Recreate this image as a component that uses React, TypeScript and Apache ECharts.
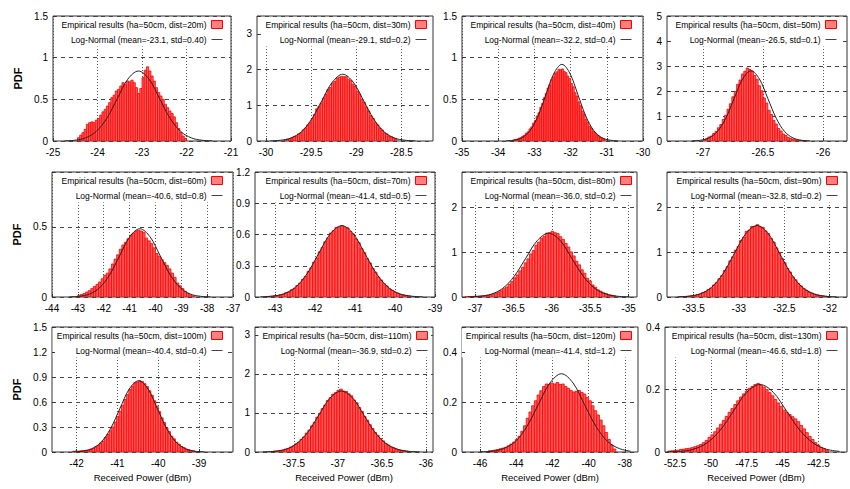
import React, { useEffect, useRef } from "react";
import * as echarts from "echarts";

// ---------------- data ----------------
const DISTANCES = ["20m", "30m", "40m", "50m", "60m", "70m", "80m", "90m", "100m", "110m", "120m", "130m"];
const FIT_LABELS = [
  "mean=-23.1, std=0.40", "mean=-29.1, std=0.2", "mean=-32.2, std=0.4", "mean=-26.5, std=0.1",
  "mean=-40.6, std=0.8", "mean=-41.4, std=0.5", "mean=-36.0, std=0.2", "mean=-32.8, std=0.2",
  "mean=-40.4, std=0.4", "mean=-36.9, std=0.2", "mean=-41.4, std=1.2", "mean=-46.6, std=1.8",
];

const X_MIN = [-25, -30.1, -35, -27.3, -44, -43.5, -37.17, -33.79, -42.6, -37.94, -47, -53.2];
const X_MAX = [-21, -28.15, -30, -25.8, -37, -39, -34.89, -31.81, -38.17, -35.92, -37.27, -40.5];
const Y_MAX = [1.5, 3.5, 1.5, 5, 0.89, 1.2, 2.8, 2.8, 1.5, 3.2, 0.5, 0.4];
const Y_STEP = [0.5, 1, 0.5, 1, 0.5, 0.3, 1, 1, 0.3, 1, 0.2, 0.2];

const X_TICKS = [
  [-25, -24, -23, -22, -21],
  [-30, -29.5, -29, -28.5],
  [-35, -34, -33, -32, -31, -30],
  [-27, -26.5, -26],
  [-44, -43, -42, -41, -40, -39, -38, -37],
  [-43, -42, -41, -40, -39],
  [-37, -36.5, -36, -35.5, -35],
  [-33.5, -33, -32.5, -32],
  [-42, -41, -40, -39],
  [-37.5, -37, -36.5, -36],
  [-46, -44, -42, -40, -38],
  [-52.5, -50, -47.5, -45, -42.5],
];
const Y_TICKS = [
  [0, 0.5, 1, 1.5],
  [0, 1, 2, 3],
  [0, 0.5, 1, 1.5],
  [0, 1, 2, 3, 4, 5],
  [0, 0.5],
  [0, 0.3, 0.6, 0.9, 1.2],
  [0, 1, 2],
  [0, 1, 2],
  [0, 0.3, 0.6, 0.9, 1.2, 1.5],
  [0, 1, 2, 3],
  [0, 0.2, 0.4],
  [0, 0.2, 0.4],
];

// histogram bins: first bin edge and bin width (dBm)
const HIST_START = [-24.45, -29.8, -33.6, -27.0, -43.0, -43.25, -37.13, -33.65, -42.1, -37.76, -45.55, -53.0];
const HIST_WIDTH = [0.05, 0.025, 0.05, 0.02, 0.1, 0.07, 0.035, 0.03, 0.06, 0.03, 0.15, 0.2];

const HIST_1 = [0.04, 0.07, 0.1, 0.14, 0.2, 0.22, 0.23, 0.22, 0.25, 0.27, 0.31, 0.35, 0.38, 0.42, 0.46, 0.52, 0.55, 0.6, 0.62, 0.66,
  0.7, 0.68, 0.72, 0.71, 0.73, 0.7, 0.64, 0.57, 0.63, 0.76, 0.85, 0.89, 0.84, 0.78, 0.72, 0.64, 0.58, 0.54, 0.5, 0.44,
  0.4, 0.36, 0.33, 0.29, 0.22, 0.15, 0.1, 0.06, 0.03];
const HIST_2 = [0.03, 0.05, 0.06, 0.09, 0.13, 0.14, 0.2, 0.23, 0.31, 0.36, 0.45, 0.52, 0.63, 0.74, 0.9, 0.97, 1.06, 1.2, 1.3, 1.44,
  1.5, 1.62, 1.67, 1.76, 1.79, 1.81, 1.8, 1.8, 1.73, 1.7, 1.59, 1.53, 1.4, 1.31, 1.17, 1.08, 0.94, 0.84, 0.71, 0.63,
  0.51, 0.45, 0.36, 0.31, 0.23, 0.2, 0.14, 0.12, 0.08, 0.06];
const HIST_3 = [0.012, 0.02, 0.022, 0.034, 0.04, 0.057, 0.069, 0.094, 0.11, 0.145, 0.17, 0.215, 0.245, 0.3, 0.34, 0.405, 0.45, 0.52, 0.57, 0.635,
  0.675, 0.735, 0.77, 0.815, 0.83, 0.86, 0.855, 0.865, 0.835, 0.82, 0.78, 0.75, 0.69, 0.65, 0.58, 0.54, 0.47, 0.425, 0.36, 0.32,
  0.26, 0.225, 0.178, 0.155, 0.118, 0.1, 0.075, 0.061, 0.044, 0.036, 0.025];
const HIST_4 = [0.05, 0.09, 0.16, 0.2, 0.3, 0.38, 0.53, 0.66, 0.86, 1.03, 1.27, 1.49, 1.77, 1.98, 2.27, 2.44, 2.68, 2.79, 2.92, 2.86,
  2.8, 2.62, 2.47, 2.21, 2.01, 1.72, 1.52, 1.23, 1.06, 0.82, 0.68, 0.5, 0.4, 0.28, 0.22, 0.14, 0.11, 0.07, 0.05, 0.03,
  0.02, 0.015, 0.01];
const HIST_5 = [0.012, 0.018, 0.025, 0.035, 0.045, 0.06, 0.075, 0.09, 0.107, 0.13, 0.155, 0.17, 0.2, 0.235, 0.27, 0.3, 0.34, 0.37, 0.39, 0.415,
  0.44, 0.455, 0.47, 0.475, 0.47, 0.46, 0.42, 0.4, 0.38, 0.35, 0.31, 0.29, 0.265, 0.245, 0.225, 0.2, 0.17, 0.14, 0.1, 0.08,
  0.06, 0.04, 0.025, 0.015, 0.008];
const HIST_6 = [0.004, 0.006, 0.008, 0.012, 0.014, 0.022, 0.027, 0.04, 0.048, 0.069, 0.083, 0.11, 0.132, 0.17, 0.198, 0.245, 0.28, 0.335, 0.375, 0.434,
  0.474, 0.53, 0.566, 0.614, 0.636, 0.668, 0.672, 0.685, 0.67, 0.664, 0.63, 0.605, 0.556, 0.522, 0.466, 0.425, 0.368, 0.327, 0.274, 0.238,
  0.192, 0.163, 0.127, 0.106, 0.078, 0.064, 0.045, 0.036, 0.025, 0.02, 0.013, 0.01];
const HIST_7 = [0.008, 0.01, 0.012, 0.015, 0.018, 0.022, 0.026, 0.032, 0.04, 0.05, 0.064, 0.085, 0.11, 0.14, 0.185, 0.225, 0.285, 0.345, 0.43, 0.495,
  0.585, 0.665, 0.765, 0.855, 0.965, 1.04, 1.16, 1.23, 1.32, 1.36, 1.43, 1.44, 1.47, 1.44, 1.42, 1.35, 1.29, 1.2, 1.12, 1.01,
  0.92, 0.8, 0.72, 0.61, 0.53, 0.42, 0.36, 0.27, 0.22, 0.16, 0.13, 0.095, 0.078, 0.052, 0.042, 0.028];
const HIST_8 = [0.007, 0.008, 0.014, 0.018, 0.029, 0.036, 0.055, 0.068, 0.098, 0.12, 0.168, 0.2, 0.27, 0.32, 0.41, 0.48, 0.595, 0.68, 0.81, 0.9,
  1.05, 1.13, 1.27, 1.34, 1.47, 1.5, 1.58, 1.58, 1.62, 1.57, 1.56, 1.48, 1.42, 1.31, 1.23, 1.1, 1.0, 0.86, 0.77, 0.64,
  0.56, 0.45, 0.385, 0.3, 0.248, 0.188, 0.152, 0.11, 0.088, 0.062, 0.048, 0.032, 0.025, 0.015, 0.011];
const HIST_9 = [0.008, 0.012, 0.011, 0.015, 0.017, 0.021, 0.024, 0.034, 0.043, 0.062, 0.078, 0.108, 0.13, 0.175, 0.21, 0.255, 0.3, 0.36, 0.425, 0.49,
  0.56, 0.63, 0.69, 0.75, 0.79, 0.83, 0.84, 0.855, 0.845, 0.82, 0.785, 0.735, 0.68, 0.615, 0.55, 0.485, 0.41, 0.355, 0.29, 0.245,
  0.19, 0.158, 0.118, 0.094, 0.067, 0.052, 0.036, 0.028, 0.018, 0.013];
const HIST_10 = [0.012, 0.022, 0.026, 0.04, 0.05, 0.074, 0.092, 0.127, 0.155, 0.21, 0.25, 0.325, 0.385, 0.485, 0.56, 0.67, 0.76, 0.89, 0.99, 1.11,
  1.2, 1.32, 1.39, 1.48, 1.52, 1.58, 1.61, 1.56, 1.55, 1.49, 1.44, 1.33, 1.26, 1.14, 1.04, 0.91, 0.815, 0.7, 0.605, 0.5,
  0.425, 0.342, 0.285, 0.218, 0.178, 0.13, 0.107, 0.076, 0.06, 0.041, 0.033, 0.021];
const HIST_11 = [0.005, 0.006, 0.008, 0.01, 0.013, 0.016, 0.019, 0.025, 0.032, 0.04, 0.05, 0.063, 0.083, 0.105, 0.135, 0.16, 0.185, 0.205, 0.228, 0.245,
  0.262, 0.272, 0.27, 0.276, 0.272, 0.278, 0.27, 0.272, 0.262, 0.255, 0.246, 0.24, 0.243, 0.246, 0.238, 0.232, 0.218, 0.205, 0.185, 0.165,
  0.148, 0.128, 0.105, 0.078, 0.05, 0.028, 0.012];
const HIST_12 = [0.003, 0.004, 0.005, 0.006, 0.008, 0.009, 0.011, 0.012, 0.014, 0.017, 0.02, 0.024, 0.03, 0.037, 0.047, 0.055, 0.065, 0.077, 0.089, 0.101,
  0.114, 0.127, 0.139, 0.152, 0.164, 0.176, 0.186, 0.195, 0.204, 0.21, 0.216, 0.219, 0.213, 0.208, 0.2, 0.19, 0.18, 0.168, 0.157, 0.146,
  0.134, 0.127, 0.12, 0.113, 0.106, 0.097, 0.085, 0.074, 0.062, 0.05, 0.04, 0.03, 0.022, 0.015, 0.01, 0.006];

// fitted log-normal curves
const CURVE_X_1 = [-24.74, -24.51, -24.27, -24.03, -23.79, -23.555, -23.32, -23.08, -22.84, -22.605, -22.37, -22.13, -21.89, -21.655, -21.42];
const CURVE_Y_1 = [0.002, 0.009, 0.037, 0.114, 0.273, 0.509, 0.741, 0.84, 0.741, 0.509, 0.273, 0.114, 0.037, 0.009, 0.002];
const CURVE_X_2 = [-29.955, -29.84, -29.725, -29.61, -29.495, -29.38, -29.265, -29.15, -29.035, -28.92, -28.805, -28.69, -28.575, -28.46, -28.345];
const CURVE_Y_2 = [0.004, 0.021, 0.082, 0.253, 0.607, 1.134, 1.65, 1.87, 1.65, 1.134, 0.607, 0.253, 0.082, 0.021, 0.004];
const CURVE_X_3 = [-33.78, -33.56, -33.34, -33.12, -32.9, -32.68, -32.46, -32.24, -32.02, -31.8, -31.58, -31.36, -31.14, -30.92, -30.7];
const CURVE_Y_3 = [0.002, 0.01, 0.04, 0.124, 0.299, 0.558, 0.812, 0.92, 0.812, 0.558, 0.299, 0.124, 0.04, 0.01, 0.002];
const CURVE_X_4 = [-27.09, -27.02, -26.95, -26.88, -26.81, -26.74, -26.67, -26.6, -26.53, -26.46, -26.39, -26.32, -26.25, -26.18, -26.11];
const CURVE_Y_4 = [0.006, 0.031, 0.123, 0.38, 0.912, 1.704, 2.48, 2.81, 2.48, 1.704, 0.912, 0.38, 0.123, 0.031, 0.006];
const CURVE_X_5 = [-43.33, -42.94, -42.55, -42.16, -41.77, -41.38, -40.99, -40.6, -40.21, -39.82, -39.43, -39.04, -38.65, -38.26, -37.87];
const CURVE_Y_5 = [0.001, 0.005, 0.021, 0.066, 0.158, 0.295, 0.429, 0.486, 0.429, 0.295, 0.158, 0.066, 0.021, 0.005, 0.001];
const CURVE_X_6 = [-43.36, -43.07, -42.78, -42.49, -42.2, -41.91, -41.62, -41.33, -41.04, -40.75, -40.46, -40.17, -39.88, -39.59, -39.3];
const CURVE_Y_6 = [0.0015, 0.008, 0.03, 0.093, 0.222, 0.415, 0.605, 0.685, 0.605, 0.415, 0.222, 0.093, 0.03, 0.008, 0.0015];
const CURVE_X_7 = [-37.09, -36.94, -36.79, -36.64, -36.49, -36.34, -36.19, -36.04, -35.89, -35.74, -35.59, -35.44, -35.29, -35.14, -34.99];
const CURVE_Y_7 = [0.003, 0.016, 0.063, 0.193, 0.464, 0.867, 1.262, 1.43, 1.262, 0.867, 0.464, 0.193, 0.063, 0.016, 0.003];
const CURVE_X_8 = [-33.675, -33.55, -33.425, -33.3, -33.175, -33.05, -32.925, -32.8, -32.675, -32.55, -32.425, -32.3, -32.175, -32.05, -31.925];
const CURVE_Y_8 = [0.004, 0.018, 0.07, 0.216, 0.52, 0.97, 1.412, 1.6, 1.412, 0.97, 0.52, 0.216, 0.07, 0.018, 0.004];
const CURVE_X_9 = [-42.09, -41.86, -41.63, -41.4, -41.17, -40.94, -40.71, -40.48, -40.25, -40.02, -39.79, -39.56, -39.33, -39.1, -38.87];
const CURVE_Y_9 = [0.002, 0.009, 0.038, 0.116, 0.278, 0.519, 0.755, 0.855, 0.755, 0.519, 0.278, 0.116, 0.038, 0.009, 0.002];
const CURVE_X_10 = [-37.85, -37.725, -37.59, -37.47, -37.34, -37.215, -37.09, -36.96, -36.83, -36.705, -36.58, -36.45, -36.32, -36.195, -36.07];
const CURVE_Y_10 = [0.003, 0.017, 0.068, 0.211, 0.507, 0.946, 1.377, 1.56, 1.377, 0.946, 0.507, 0.211, 0.068, 0.017, 0.003];
const CURVE_X_11 = [-45.96, -45.33, -44.69, -44.05, -43.41, -42.78, -42.14, -41.5, -40.86, -40.23, -39.59, -38.95, -38.31, -37.68];
const CURVE_Y_11 = [0.001, 0.003, 0.014, 0.042, 0.102, 0.19, 0.276, 0.313, 0.276, 0.19, 0.102, 0.042, 0.014, 0.003];
const CURVE_X_12 = [-53.04, -52.12, -51.195, -50.27, -49.345, -48.42, -47.495, -46.57, -45.645, -44.72, -43.795, -42.87, -41.945, -41.02];
const CURVE_Y_12 = [0.0005, 0.002, 0.009, 0.029, 0.07, 0.131, 0.191, 0.216, 0.191, 0.131, 0.07, 0.029, 0.009, 0.002];

const HISTS = [HIST_1, HIST_2, HIST_3, HIST_4, HIST_5, HIST_6, HIST_7, HIST_8, HIST_9, HIST_10, HIST_11, HIST_12];
const CURVES_X = [CURVE_X_1, CURVE_X_2, CURVE_X_3, CURVE_X_4, CURVE_X_5, CURVE_X_6, CURVE_X_7, CURVE_X_8, CURVE_X_9, CURVE_X_10, CURVE_X_11, CURVE_X_12];
const CURVES_Y = [CURVE_Y_1, CURVE_Y_2, CURVE_Y_3, CURVE_Y_4, CURVE_Y_5, CURVE_Y_6, CURVE_Y_7, CURVE_Y_8, CURVE_Y_9, CURVE_Y_10, CURVE_Y_11, CURVE_Y_12];

// ---------------- layout ----------------
const GRID_LEFT = [53, 257, 462, 667, 52, 255, 462, 667, 52, 255, 462, 665];
const GRID_RIGHT = [231, 433, 643, 847, 233, 435, 637, 847, 233, 433, 638, 847];
const GRID_TOP = [16, 16, 16, 16, 172, 172, 172, 172, 327, 327, 327, 327];
const GRID_H = 125;
const KEY_RIGHT = [223, 427, 632, 837, 223, 427, 632, 838, 223, 428, 632, 838];
const W = 850;
const H = 489;
const FONT = "'Liberation Sans', Arial, Helvetica, sans-serif";

function fmt(v: number) {
  return String(parseFloat(v.toFixed(3)));
}

function buildOption() {
  const grid: any[] = [];
  const xAxis: any[] = [];
  const yAxis: any[] = [];
  const series: any[] = [];
  const legend: any[] = [];

  for (let i = 0; i < 12; i++) {
    const empName = "Empirical results (ha=50cm, dist=" + DISTANCES[i] + ")";
    const fitName = "Log-Normal (" + FIT_LABELS[i] + ")";
    const yTicks = Y_TICKS[i];
    grid.push({
      left: GRID_LEFT[i],
      top: GRID_TOP[i],
      width: GRID_RIGHT[i] - GRID_LEFT[i],
      height: GRID_H,
      show: true,
      borderColor: "#333",
      borderWidth: 1,
      backgroundColor: "rgba(0,0,0,0)",
    });
    xAxis.push({
      type: "value",
      gridIndex: i,
      min: X_MIN[i],
      max: X_MAX[i],
      axisLine: { show: false },
      axisTick: { show: true, inside: true, length: 3, customValues: X_TICKS[i], lineStyle: { color: "#333" } },
      axisLabel: {
        customValues: X_TICKS[i], showMinLabel: true, showMaxLabel: true, hideOverlap: false,
        margin: 6, color: "#000", fontSize: 10, fontFamily: FONT,
      },
      splitLine: { show: true, lineStyle: { color: "#555", type: [1, 2], width: 1 } },
      name: i >= 8 ? "Received Power (dBm)" : "",
      nameLocation: "middle",
      nameGap: 20,
      nameTextStyle: { color: "#000", fontSize: 9.5, fontFamily: FONT },
    });
    yAxis.push({
      type: "value",
      gridIndex: i,
      min: 0,
      max: Y_MAX[i],
      interval: Y_STEP[i],
      z: 5,
      axisLine: { show: false },
      axisTick: { show: true, inside: true, length: 3, lineStyle: { color: "#333" } },
      axisLabel: {
        showMinLabel: true, showMaxLabel: true, hideOverlap: false,
        margin: 5, color: "#000", fontSize: 10, fontFamily: FONT,
        formatter: (v: number) => {
          const hit = yTicks.some((t) => Math.abs(t - v) < 1e-6);
          return hit ? fmt(v) : "";
        },
      },
      // horizontal grid lines are drawn by a second, label-less axis below the legend
      splitLine: { show: false },
      name: i % 4 === 0 ? "PDF" : "",
      nameLocation: "middle",
      nameRotate: 90,
      nameGap: 30,
      nameTextStyle: { color: "#000", fontSize: 11, fontWeight: "bold", fontFamily: FONT },
    });

    const start = HIST_START[i];
    const bw = HIST_WIDTH[i];
    series.push({
      type: "custom",
      name: empName,
      xAxisIndex: i,
      yAxisIndex: i,
      clip: true,
      z: 2,
      itemStyle: { color: "#ff7070", borderColor: "#ff0000" },
      encode: { x: [0, 1], y: 2 },
      data: HISTS[i].map((h, k) => [start + k * bw, start + (k + 1) * bw, h]),
      renderItem: (_params: any, api: any) => {
        const a = api.coord([api.value(0), api.value(2)]);
        const b = api.coord([api.value(1), 0]);
        return {
          type: "rect",
          shape: { x: a[0], y: a[1], width: b[0] - a[0], height: b[1] - a[1] },
          style: { fill: "#ff5a5a", stroke: "#ff0000", lineWidth: 0.8 },
        };
      },
    });
    series.push({
      type: "line",
      name: fitName,
      xAxisIndex: i,
      yAxisIndex: i,
      data: CURVES_X[i].map((x, k) => [x, CURVES_Y[i][k]]),
      symbol: "none",
      smooth: 0.35,
      clip: true,
      z: 3,
      lineStyle: { color: "#222", width: 1 },
      itemStyle: { color: "#222" },
    });
    legend.push({
      orient: "vertical",
      align: "right",
      right: W - KEY_RIGHT[i] - 2,
      top: GRID_TOP[i] + 1.5,
      itemGap: 3,
      itemWidth: 11,
      itemHeight: 8,
      padding: [1, 2, 1, 4],
      backgroundColor: "#fff",
      selectedMode: false,
      textStyle: { fontSize: 8.5, fontFamily: FONT, color: "#000", lineHeight: 12 },
      data: [
        { name: empName, icon: "rect", itemStyle: { color: "#ff7f7f", borderColor: "#ff0000", borderWidth: 1 } },
        {
          name: fitName,
          itemStyle: { color: "rgba(0,0,0,0)", borderColor: "rgba(0,0,0,0)", borderWidth: 0 },
          lineStyle: { color: "#444", width: 1 },
        },
      ],
    });
  }

  // second y axis per panel: same scale, only the dashed horizontal grid lines (kept under the legend)
  for (let i = 0; i < 12; i++) {
    yAxis.push({
      type: "value",
      gridIndex: i,
      min: 0,
      max: Y_MAX[i],
      interval: Y_STEP[i],
      z: 0,
      axisLine: { show: false },
      axisTick: { show: false },
      axisLabel: { show: false },
      splitLine: { show: true, lineStyle: { color: "#444", type: [4, 4], width: 1 } },
    });
  }

  return {
    animation: false,
    backgroundColor: "#fff",
    textStyle: { fontFamily: FONT },
    grid,
    xAxis,
    yAxis,
    legend,
    series,
  };
}

export default function App() {
  const ref = useRef<HTMLDivElement>(null);
  useEffect(() => {
    if (!ref.current) return;
    const chart = echarts.init(ref.current, null, { renderer: "svg" });
    chart.setOption(buildOption() as any);
    return () => chart.dispose();
  }, []);
  return (
    <div
      ref={ref}
      style={{ position: "fixed", left: 0, top: 0, width: W, height: H, background: "#fff" }}
    />
  );
}
